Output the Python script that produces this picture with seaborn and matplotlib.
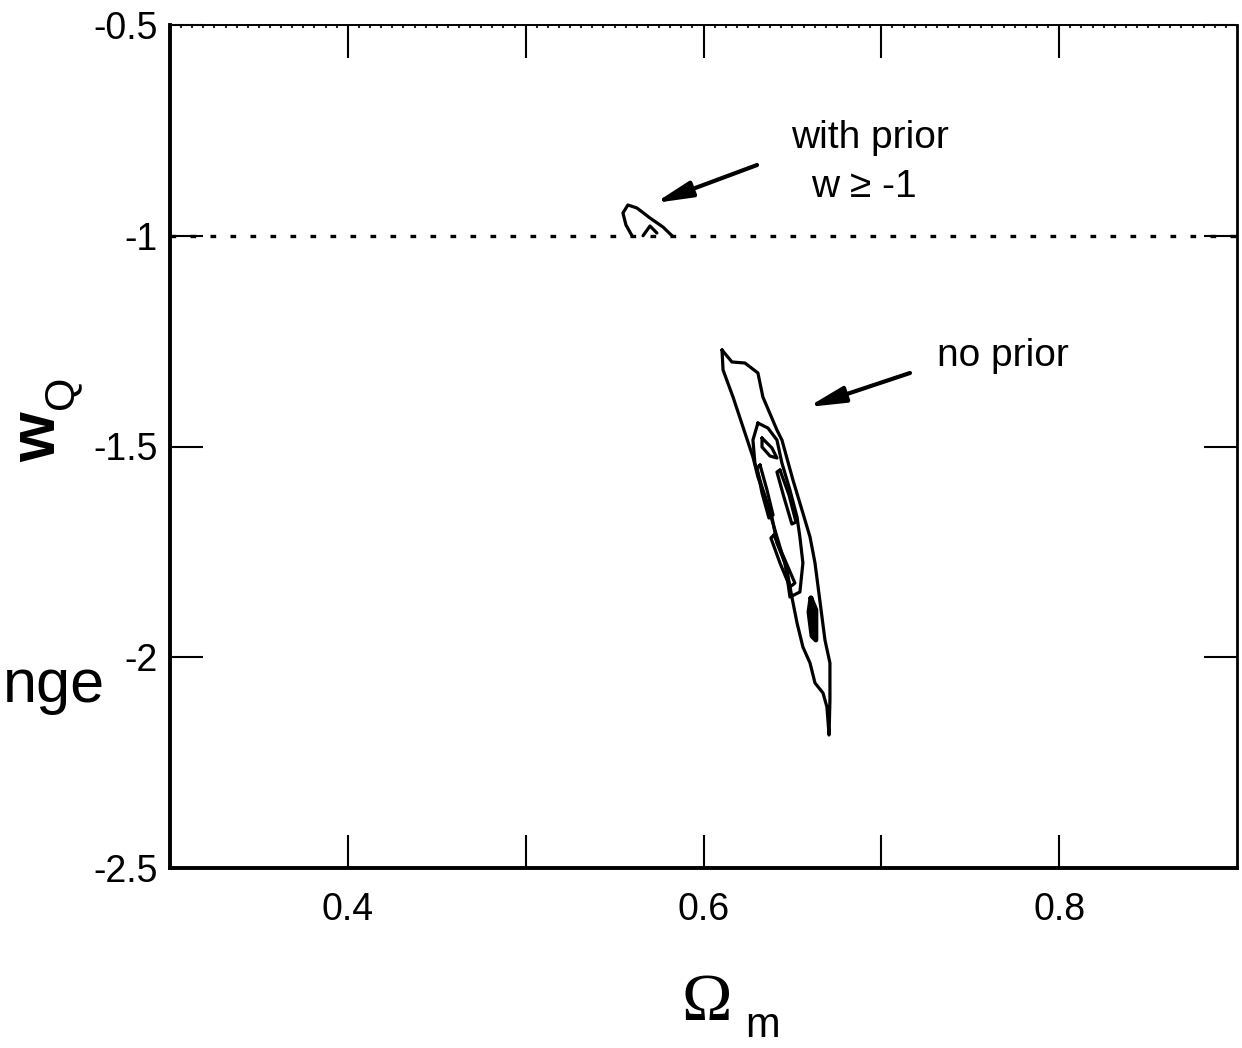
import matplotlib
matplotlib.use("Agg")
import matplotlib.pyplot as plt
from matplotlib.ticker import MultipleLocator
import seaborn as sns
import pandas as pd

# ---------------- data ----------------
x_ticks = [0.4, 0.5, 0.6, 0.7, 0.8]
x_tick_labels = ["0.4", "", "0.6", "", "0.8"]
y_ticks = [-2.5, -2.0, -1.5, -1.0, -0.5]
y_tick_labels = ["-2.5", "-2", "-1.5", "-1", "-0.5"]
w_prior_level = -1.0

# "no prior" contours (Omega_m, w_Q)
outer_om = [0.6104, 0.6110, 0.6166, 0.6222, 0.6278, 0.6306, 0.6346, 0.6385, 0.6430,
            0.6469, 0.6497, 0.6526, 0.6559, 0.6599, 0.6627, 0.6672, 0.6694, 0.6706,
            0.6711, 0.6711, 0.6683, 0.6627, 0.6599, 0.6542, 0.6503, 0.6441, 0.6413,
            0.6334, 0.6306, 0.6233, 0.6160, 0.6104]
outer_w = [-1.271, -1.3185, -1.3826, -1.4537, -1.5249, -1.5724, -1.6198, -1.6744, -1.7384,
           -1.7930, -1.8571, -1.9188, -1.9757, -2.0137, -2.0611, -2.0848, -2.1180, -2.1845,
           -2.1014, -2.0137, -1.9591, -1.7764, -1.7147, -1.6341, -1.5795, -1.4846, -1.4609,
           -1.3826, -1.3256, -1.3019, -1.2995, -1.271]

mid_om = [0.6306, 0.6278, 0.6289, 0.6334, 0.6385, 0.6413, 0.6458, 0.6475, 0.6486,
          0.6542, 0.6559, 0.6542, 0.6526, 0.6486, 0.6441, 0.6413, 0.6362, 0.6306]
mid_w = [-1.4443, -1.4846, -1.5392, -1.6032, -1.6673, -1.7290, -1.7764, -1.8239, -1.8571,
         -1.8452, -1.7764, -1.7147, -1.6673, -1.6032, -1.5392, -1.4846, -1.4561, -1.4443]

loopA_om = [0.6329, 0.6385, 0.6413, 0.6374, 0.6329, 0.6329]
loopA_w = [-1.4798, -1.5036, -1.5273, -1.5226, -1.5012, -1.4798]
loopB_om = [0.6318, 0.6357, 0.6391, 0.6368, 0.6329, 0.6301, 0.6318]
loopB_w = [-1.5439, -1.6032, -1.6625, -1.6696, -1.6103, -1.5510, -1.5439]
loopC_om = [0.6430, 0.6481, 0.6520, 0.6497, 0.6452, 0.6413, 0.6430]
loopC_w = [-1.5558, -1.6151, -1.6792, -1.6839, -1.6198, -1.5605, -1.5558]
loopD_om = [0.6396, 0.6458, 0.6514, 0.6486, 0.6430, 0.6379, 0.6396]
loopD_w = [-1.7100, -1.7693, -1.8239, -1.8334, -1.7764, -1.7171, -1.7100]
blob_om = [0.6604, 0.6632, 0.6632, 0.6610, 0.6593, 0.6604]
blob_w = [-1.8595, -1.8879, -1.9591, -1.9496, -1.8927, -1.8595]

# "with prior w >= -1" contour
prior_om = [0.5823, 0.5772, 0.5699, 0.5626, 0.5575, 0.5547, 0.5564, 0.5598]
prior_w = [-1.0, -0.9792, -0.9579, -0.9342, -0.9270, -0.9460, -0.9745, -1.0]
prior_in_om = [0.5660, 0.5699, 0.5738]
prior_in_w = [-1.0, -0.9768, -0.9935]

# annotations: (text position), (arrow tail), (arrow head)
ann_with_xy = (0.6936, -0.7918)
ann_with2_xy = (0.6903, -0.908)
ann_with_tail = (0.6301, -0.8322)
ann_with_head = (0.5727, -0.9223)
ann_no_xy = (0.7313, -1.309)
ann_no_tail = (0.7161, -1.3256)
ann_no_head = (0.6587, -1.4063)

# ---------------- style ----------------
sns.set_style("white")
plt.rcParams["font.family"] = ["Liberation Sans", "DejaVu Sans"]
plt.rcParams["text.color"] = "black"
plt.rcParams["axes.labelcolor"] = "black"

W, H = 1242, 1048
fig = plt.figure(figsize=(W / 100, H / 100), dpi=100)
ax = fig.add_axes([170 / W, 1 - 868 / H, (1237 - 170) / W, (868 - 25) / H])

LW = 2.3
curves = [(outer_om, outer_w), (mid_om, mid_w), (loopA_om, loopA_w), (loopB_om, loopB_w),
          (loopC_om, loopC_w), (loopD_om, loopD_w), (prior_om, prior_w),
          (prior_in_om, prior_in_w)]
for xs, ys in curves:
    df = pd.DataFrame({"om": xs, "w": ys})
    sns.lineplot(data=df, x="om", y="w", sort=False, estimator=None, color="black",
                 lw=LW, ax=ax)
dfb = pd.DataFrame({"om": blob_om, "w": blob_w})
sns.lineplot(data=dfb, x="om", y="w", sort=False, estimator=None, color="black",
             lw=3.5, ax=ax)
ax.fill(blob_om, blob_w, color="black")

ax.axhline(w_prior_level, color="black", lw=2.4, dashes=(1.7, 4.3))

ax.set_xlim(0.3, 0.9)
ax.set_ylim(-2.5, -0.5)
ax.set_xticks(x_ticks)
ax.set_xticklabels(x_tick_labels)
ax.set_yticks(y_ticks)
ax.set_yticklabels(y_tick_labels)
ax.xaxis.set_minor_locator(MultipleLocator(0.00625))
ax.tick_params(which="major", direction="in", length=24, width=1.5, top=True,
               right=True, bottom=True, left=True, labelsize=27, colors="black", pad=9)
ax.tick_params(axis="x", which="major", pad=17.5)
ax.tick_params(axis="x", which="minor", direction="in", length=2.5, width=1.5,
               top=True, bottom=False)
ax.set_xlabel("")
ax.set_ylabel("")
for side, lw in [("left", 2.8), ("bottom", 2.8), ("top", 1.4), ("right", 2.0)]:
    ax.spines[side].set_linewidth(lw)
    ax.spines[side].set_color("black")
    ax.spines[side].set_visible(True)

# annotations
ax.text(*ann_with_xy, "with prior", fontsize=28, ha="center", va="baseline")
ax.text(*ann_with2_xy, "w \u2265 -1", fontsize=28, ha="center", va="baseline")
ax.text(*ann_no_xy, "no prior", fontsize=28, ha="left", va="baseline")
aprops = dict(arrowstyle="-|>,head_length=1.0,head_width=0.22", lw=3, color="black",
              shrinkA=0, shrinkB=0, mutation_scale=22)
ax.annotate("", xy=ann_with_head, xytext=ann_with_tail, arrowprops=aprops)
ax.annotate("", xy=ann_no_head, xytext=ann_no_tail, arrowprops=aprops)

# axis labels
fig.text(707 / W, 1 - 1020 / H, "\u03a9", fontsize=49, ha="center", va="baseline",
         family=["Liberation Serif", "DejaVu Serif"])
fig.text(745 / W, 1 - 1037 / H, "m", fontsize=30, ha="left", va="baseline")
fig.text(55 / W, 1 - 437 / H, "w", fontsize=46, fontweight="bold", rotation=90,
         rotation_mode="anchor", ha="center", va="baseline")
fig.text(72 / W, 1 - 392 / H, "Q", fontsize=31, rotation=90,
         rotation_mode="anchor", ha="center", va="baseline")

# partial leftover text at left edge
fig.text(3 / W, 1 - 702 / H, "nge", fontsize=44, ha="left", va="baseline")

fig.savefig("out.png", dpi=100, facecolor="white")
